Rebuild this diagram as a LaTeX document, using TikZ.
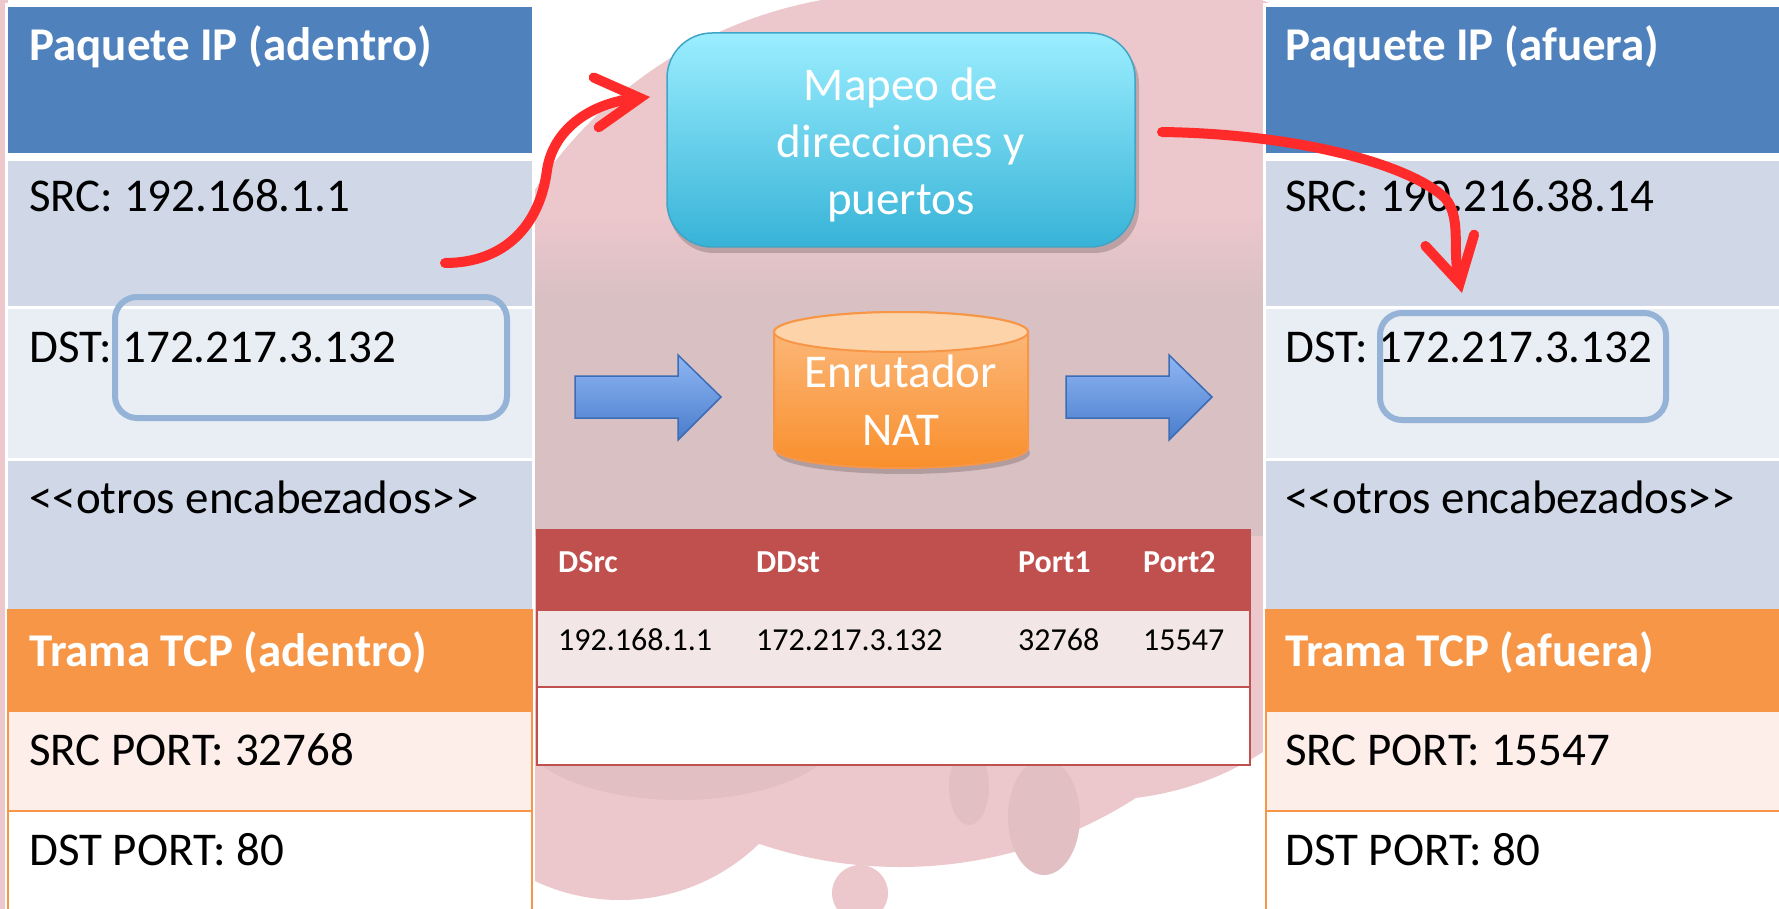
\documentclass[tikz,border=0pt]{standalone}
\usepackage{fontspec}
\setmainfont{Carlito}[Ligatures=TeXOff]
\usetikzlibrary{arrows.meta}
\definecolor{hdrblue}{HTML}{4F81BD}
\definecolor{rowA}{HTML}{D0D8E8}
\definecolor{rowB}{HTML}{E9EDF4}
\definecolor{hdrorange}{HTML}{F79646}
\definecolor{rowpeach}{HTML}{FDEEEA}
\definecolor{hlblue}{HTML}{95B3D7}
\definecolor{tblred}{HTML}{C0504D}
\definecolor{tblrow}{HTML}{F2E6E6}
\definecolor{arrowred}{HTML}{FF2A2A}
\definecolor{bgpink}{HTML}{ECC7CC}
\definecolor{bgdark}{HTML}{D9C0C3}
\definecolor{bgdot}{HTML}{E2BFC3}
\definecolor{mapeotop}{HTML}{9BEEFF}
\definecolor{mapeobot}{HTML}{37B3D7}
\definecolor{mapeoedge}{HTML}{40A4C6}
\definecolor{cyltop}{HTML}{FDD3A9}
\definecolor{cylupper}{HTML}{FCBC82}
\definecolor{cyllower}{HTML}{F98F2C}
\definecolor{cyledge}{HTML}{F79646}
\definecolor{barrowtop}{HTML}{8FB6F3}
\definecolor{barrowbot}{HTML}{4A7DCC}
\definecolor{barrowedge}{HTML}{3C6CB5}
\begin{document}
\begin{tikzpicture}[x=1pt,y=-1pt,
  coltext/.style={anchor=base west, inner sep=0pt, font=\fontsize{47}{57}\selectfont, text=black},
  colhead/.style={anchor=base west, inner sep=0pt, font=\fontsize{47}{57}\selectfont\bfseries, text=white},
  tbltext/.style={anchor=base west, inner sep=0pt, font=\fontsize{32}{38}\selectfont, text=black},
  tblhead/.style={anchor=base west, inner sep=0pt, font=\fontsize{32}{38}\selectfont\bfseries, text=white},
  hlbox/.style={draw=hlblue, line width=6pt, rounded corners=22pt},
  redarrow/.style={draw=arrowred, line width=10pt, line cap=round,
    -{Straight Barb[length=44pt,width=50pt,line cap=round,line join=miter]}},
  blockarrow/.style={top color=barrowtop, bottom color=barrowbot, draw=barrowedge, line width=1.5pt, line join=miter},
  bigwhite/.style={text=white, font=\fontsize{47}{57}\selectfont, align=center, inner sep=0pt},
]
\useasboundingbox (0,0) rectangle (1779,909);
% background
\fill[white] (0,0) rectangle (1779,909);
\begin{scope}
\clip (0,0) rectangle (1779,909);
\fill[bgpink] (900,430) circle[radius=437];
\fill[bgpink] (1000,200) circle[radius=210];
\fill[bgpink] (1150,300) circle[radius=320];
\fill[bgpink] (1100,500) circle[radius=300];
\fill[bgpink] (620,700) circle[radius=200];
\fill[bgpink] (860,893) circle[radius=28];
\fill[bgdot] (969,787) ellipse[x radius=20, y radius=38];
\fill[bgdot] (1044,817) ellipse[x radius=36, y radius=58];
\shade[top color=bgpink, bottom color=bgdark] (532,215) rectangle (1266,300);
\fill[bgdark] (532,300) rectangle (1266,536);
\fill[bgdot] (680,730) ellipse[x radius=160, y radius=70];
\fill[bgpink] (0,0) rectangle (8,909);
\end{scope}

% left column
\fill[white] (5,3) rectangle (535,909);
\fill[hdrblue] (8,7) rectangle (532,153);
\fill[rowA] (8,161) rectangle (532,306);
\fill[rowB] (8,309) rectangle (532,458);
\fill[rowA] (8,461) rectangle (532,609);
\fill[hdrorange] (8,609) rectangle (532,712);
\fill[rowpeach] (8,712) rectangle (532,811);
\draw[hdrorange, line width=2.5pt] (8,609) -- (8,909) (532,609) -- (532,909) (8,811) -- (532,811);

\node[colhead] (lhead) at (29,61) {Paquete IP (adentro)};
\node[coltext] (lsrc) at (29,212) {SRC: 192.168.1.1};
\node[coltext] (ldst) at (29,362) {DST: 172.217.3.132};
\node[coltext] (lotros) at (29,513) {<<otros encabezados>>};
\node[colhead] (ltcp) at (29,666) {Trama TCP (adentro)};
\node[coltext] (lsport) at (29,765) {SRC PORT: 32768};
\node[coltext] (ldport) at (29,865) {DST PORT: 80};
\draw[hlbox] (115,297) rectangle (507,418);

% right column
\fill[white] (1263,3) rectangle (1779,909);
\fill[hdrblue] (1266,7) rectangle (1779,153);
\fill[rowA] (1266,161) rectangle (1779,306);
\fill[rowB] (1266,309) rectangle (1779,458);
\fill[rowA] (1266,461) rectangle (1779,609);
\fill[hdrorange] (1266,609) rectangle (1779,712);
\fill[rowpeach] (1266,712) rectangle (1779,811);
\draw[hdrorange, line width=2.5pt] (1266,609) -- (1266,909) (1266,811) -- (1779,811);

\node[colhead] (rhead) at (1285,61) {Paquete IP (afuera)};
\node[coltext] (rsrc) at (1285,212) {SRC: 190.216.38.14};
\node[coltext] (rdst) at (1285,362) {DST: 172.217.3.132};
\node[coltext] (rotros) at (1285,513) {<<otros encabezados>>};
\node[colhead] (rtcp) at (1285,666) {Trama TCP (afuera)};
\node[coltext] (rsport) at (1285,765) {SRC PORT: 15547};
\node[coltext] (rdport) at (1285,865) {DST PORT: 80};
\draw[hlbox] (1380,313) rectangle (1666,420);

% mapping box
\fill[black, opacity=0.18, rounded corners=45pt] (669,39) rectangle (1139,253);
\node[draw=mapeoedge, line width=1.5pt, rounded corners=45pt, top color=mapeotop, bottom color=mapeobot,
      minimum width=468pt, minimum height=214pt, inner sep=0pt] (mapeo) at (901,140) {};
\node[bigwhite] (mapeotxt) at (901,145) {Mapeo de\\direcciones y\\puertos};

% block arrows
\draw[blockarrow] (575,376) -- (678,376) -- (678,355) -- (721,397) -- (678,440) -- (678,418) -- (575,418) -- cycle;
\draw[blockarrow] (1066,376) -- (1169,376) -- (1169,355) -- (1212,397) -- (1169,440) -- (1169,418) -- (1066,418) -- cycle;

% NAT cylinder
\fill[black, opacity=0.18] (903,453) ellipse[x radius=127, y radius=21];
\draw[draw=cyledge, line width=2pt, top color=cylupper, bottom color=cyllower]
  (774,332) -- (774,448) arc[start angle=180, end angle=0, x radius=127, y radius=20]
  -- (1028,332) arc[start angle=0, end angle=-180, x radius=127, y radius=20] -- cycle;
\draw[draw=cyledge, line width=2pt, fill=cyltop] (901,332) ellipse[x radius=127, y radius=20];
\node[bigwhite, font=\fontsize{47}{58}\selectfont] (nat) at (901,400) {Enrutador\\NAT};

% table
\fill[tblred] (537,530) rectangle (1250,611);
\fill[tblrow] (537,611) rectangle (1250,687);
\fill[white] (537,687) rectangle (1250,765);
\draw[tblred, line width=2.5pt] (537,530) rectangle (1250,765);
\draw[tblred, line width=2.5pt] (537,687) -- (1250,687);
\node[tblhead] (hdsrc) at (558,572) {DSrc};
\node[tblhead] (hddst) at (756,572) {DDst};
\node[tblhead] (hport1) at (1018,572) {Port1};
\node[tblhead] (hport2) at (1143,572) {Port2};
\node[tbltext] (vdsrc) at (558,650) {192.168.1.1};
\node[tbltext] (vddst) at (756,650) {172.217.3.132};
\node[tbltext] (vport1) at (1018,650) {32768};
\node[tbltext] (vport2) at (1143,650) {15547};

% red arrows
\coordinate (a1s) at (445,263);
\coordinate (a1e) at (650,97);
\coordinate (a2s) at (1162,132);
\coordinate (a2e) at (1462,293);
\draw[redarrow] (a1s) .. controls (505,263) and (540,225) .. (547,170) .. controls (553,130) and (590,103) .. (a1e);
\draw[redarrow] (a2s) .. controls (1300,134) and (1410,165) .. (1445,198) .. controls (1462,218) and (1452,250) .. (a2e);
\end{tikzpicture}
\end{document}
